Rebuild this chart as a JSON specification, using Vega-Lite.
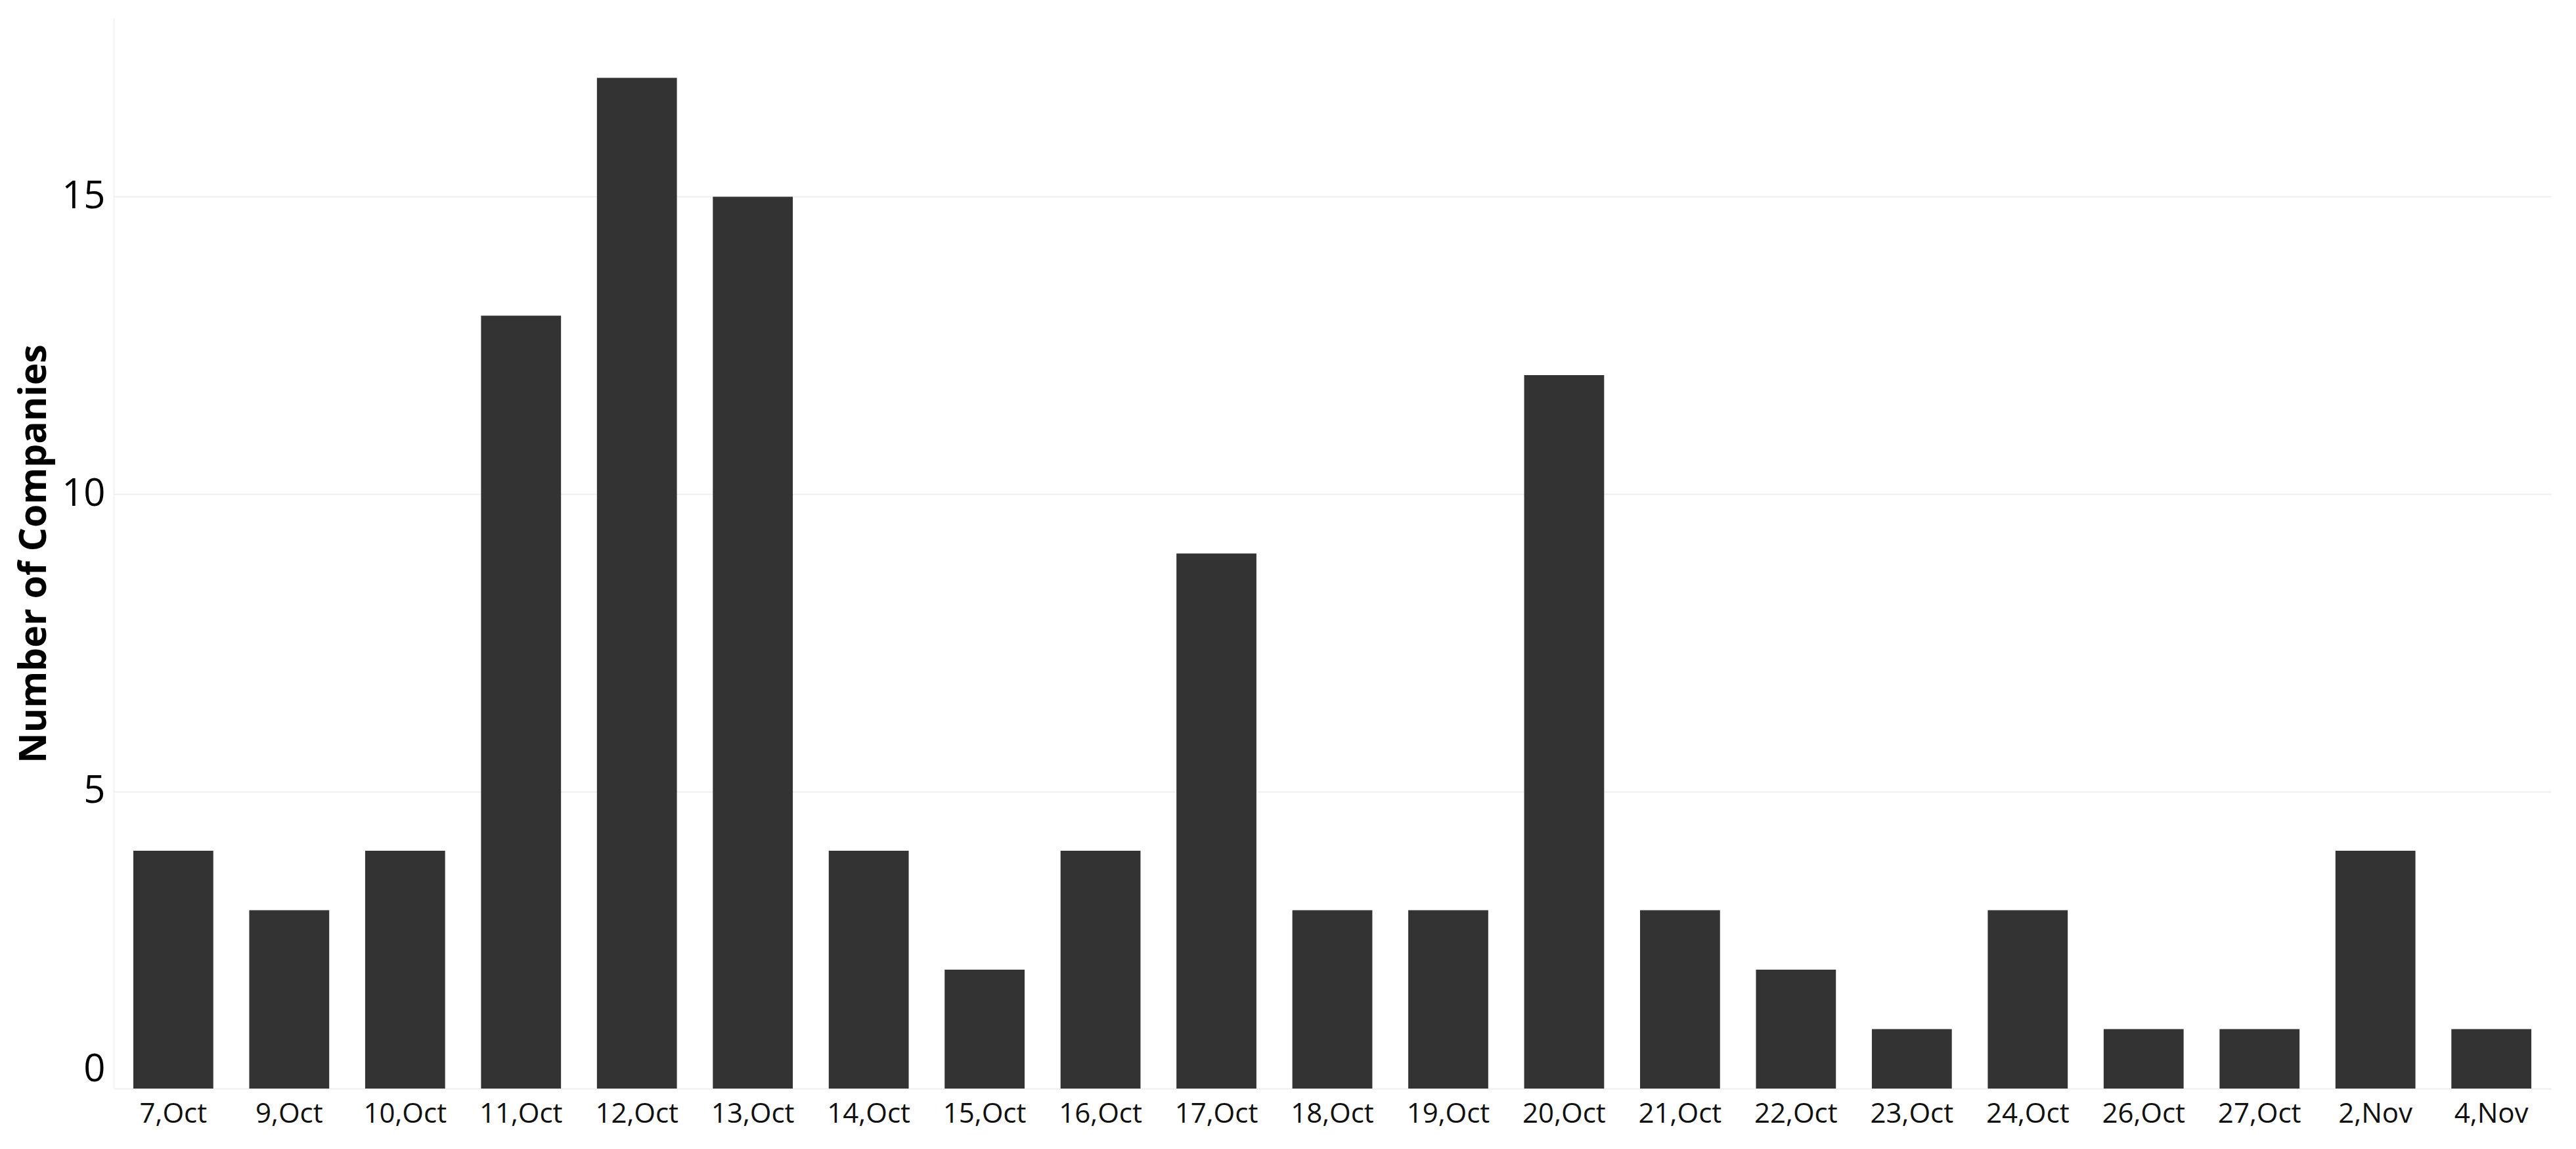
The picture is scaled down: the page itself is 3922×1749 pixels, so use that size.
{
  "$schema": "https://vega.github.io/schema/vega-lite/v6.json",
  "autosize": "none",
  "width": 3711,
  "height": 1629,
  "padding": {"left": 173, "top": 28, "right": 38, "bottom": 92},
  "background": "white",
  "config": {"view": {"stroke": null}, "font": "Open Sans"},
  "data": {"values": [
    {"date": "7,Oct", "count": 4},
    {"date": "9,Oct", "count": 3},
    {"date": "10,Oct", "count": 4},
    {"date": "11,Oct", "count": 13},
    {"date": "12,Oct", "count": 17},
    {"date": "13,Oct", "count": 15},
    {"date": "14,Oct", "count": 4},
    {"date": "15,Oct", "count": 2},
    {"date": "16,Oct", "count": 4},
    {"date": "17,Oct", "count": 9},
    {"date": "18,Oct", "count": 3},
    {"date": "19,Oct", "count": 3},
    {"date": "20,Oct", "count": 12},
    {"date": "21,Oct", "count": 3},
    {"date": "22,Oct", "count": 2},
    {"date": "23,Oct", "count": 1},
    {"date": "24,Oct", "count": 3},
    {"date": "26,Oct", "count": 1},
    {"date": "27,Oct", "count": 1},
    {"date": "2,Nov", "count": 4},
    {"date": "4,Nov", "count": 1}
  ]},
  "mark": {"type": "bar", "color": "#333333"},
  "encoding": {
    "x": {
      "field": "date", "type": "nominal", "sort": null,
      "scale": {"paddingInner": 0.31, "paddingOuter": 0.17},
      "axis": {
        "title": null, "labelAngle": 0, "ticks": false,
        "domain": true, "domainColor": "#f2f2f2", "domainWidth": 2,
        "labelFontSize": 42, "labelColor": "#111111", "labelPadding": 18,
        "labelFont": "Open Sans"
      }
    },
    "y": {
      "field": "count", "type": "quantitative",
      "scale": {"domain": [0, 18], "nice": false},
      "axis": {
        "title": "Number of Companies", "titleFontSize": 57, "titleFontWeight": "bold",
        "titleColor": "#000000", "titlePadding": 12,
        "values": [0, 5, 10, 15], "ticks": false,
        "domain": true, "domainColor": "#f2f2f2", "domainWidth": 2,
        "grid": true, "gridColor": "#efefef", "gridWidth": 2,
        "labelFontSize": 58, "labelColor": "#000000", "labelPadding": 13,
        "labelFlush": true, "labelFlushOffset": 0
      }
    }
  }
}
